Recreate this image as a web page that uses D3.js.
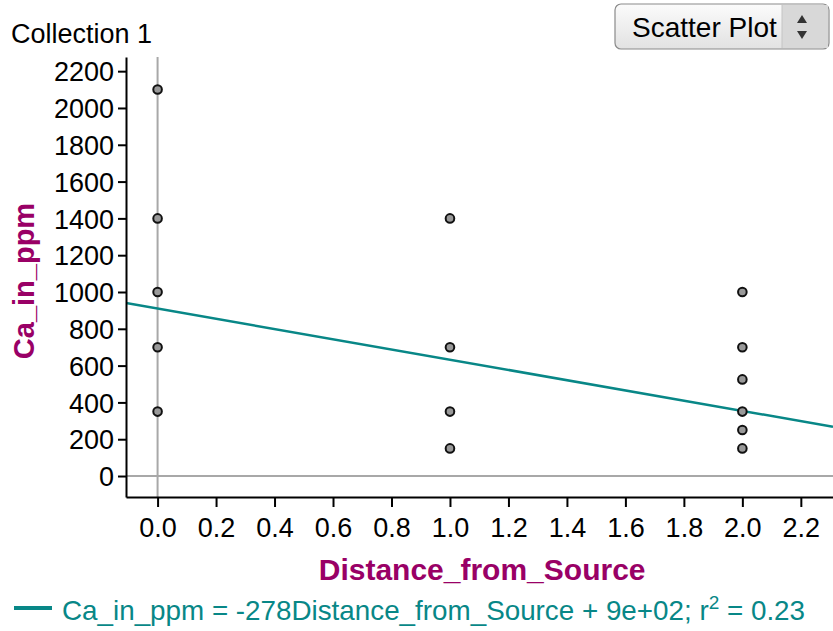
<!DOCTYPE html>
<html>
<head>
<meta charset="utf-8">
<script src="https://cdn.jsdelivr.net/npm/d3@7"></script>
<style>
  body { margin: 0; background: #fff; }
  svg { display: block; font-family: "Liberation Sans", Arial, sans-serif; }
</style>
</head>
<body>
<div id="canvas"></div>
<script>
// data
var distance = [0, 0, 0, 0, 0, 1, 1, 1, 1, 2, 2, 2, 2, 2, 2];
var caPpm = [2100, 1400, 1000, 700, 350, 1400, 700, 350, 150, 1000, 700, 525, 350, 250, 150];
var xTicks = [0, 0.2, 0.4, 0.6, 0.8, 1.0, 1.2, 1.4, 1.6, 1.8, 2.0, 2.2];
var yTicks = [0, 200, 400, 600, 800, 1000, 1200, 1400, 1600, 1800, 2000, 2200];
var fitSlope = -278, fitIntercept = 910;
var xDomain = [-0.108, 2.31], yDomain = [-114, 2277];

var W = 833, H = 631;
var margin = {top: 57, right: 0, bottom: 134, left: 126};
var width = W - margin.left - margin.right,
    height = H - margin.top - margin.bottom;

var teal = "#088787", purple = "#990066";

var svg = d3.select("#canvas").append("svg")
  .attr("width", W)
  .attr("height", H);

var x = d3.scaleLinear().domain(xDomain).range([0, width]);
var y = d3.scaleLinear().domain(yDomain).range([height, 0]);

var g = svg.append("g")
  .attr("transform", "translate(" + margin.left + "," + margin.top + ")");

g.append("clipPath").attr("id", "clip")
  .append("rect").attr("width", width).attr("height", height);

var plot = g.append("g").attr("clip-path", "url(#clip)");

// zero lines
plot.append("line")
  .attr("x1", x(0)).attr("x2", x(0)).attr("y1", 0).attr("y2", height)
  .attr("stroke", "#a8a8a8").attr("stroke-width", 2);
plot.append("line")
  .attr("x1", 0).attr("x2", width).attr("y1", y(0)).attr("y2", y(0))
  .attr("stroke", "#a8a8a8").attr("stroke-width", 2);

// least squares line
plot.append("line")
  .attr("x1", x(xDomain[0])).attr("y1", y(fitIntercept + fitSlope * xDomain[0]))
  .attr("x2", x(xDomain[1])).attr("y2", y(fitIntercept + fitSlope * xDomain[1]))
  .attr("stroke", teal).attr("stroke-width", 2.5);

// points
plot.selectAll(".dot")
  .data(distance)
  .enter().append("circle")
    .attr("class", "dot")
    .attr("cx", function(d) { return x(d); })
    .attr("cy", function(d, i) { return y(caPpm[i]); })
    .attr("r", 4.3)
    .attr("fill", "#999")
    .attr("stroke", "#111")
    .attr("stroke-width", 2);

// axes
var xAxis = g.append("g")
  .attr("transform", "translate(0," + height + ")")
  .call(d3.axisBottom(x).tickValues(xTicks).tickFormat(d3.format(".1f")).tickSize(10).tickSizeOuter(0).tickPadding(8));
var yAxis = g.append("g")
  .call(d3.axisLeft(y).tickValues(yTicks).tickFormat(d3.format("d")).tickSize(8).tickSizeOuter(0).tickPadding(4));

[xAxis, yAxis].forEach(function(a) {
  a.select(".domain").attr("stroke", "#000").attr("stroke-width", 2);
  a.selectAll(".tick line").attr("stroke", "#000").attr("stroke-width", 2);
  a.selectAll(".tick text")
    .attr("fill", "#000")
    .style("font-size", "27px")
    .style("font-family", "'Liberation Sans', Arial, sans-serif");
});
yAxis.selectAll(".tick text").attr("dy", "0.36em");
xAxis.selectAll(".tick text").attr("dy", "0.8em");

// axis labels
svg.append("text")
  .attr("x", margin.left + x(1.11))
  .attr("y", 580)
  .attr("text-anchor", "middle")
  .attr("fill", purple)
  .style("font-size", "30px")
  .style("font-weight", "bold")
  .text("Distance_from_Source");

svg.append("text")
  .attr("transform", "translate(34,281) rotate(-90)")
  .attr("text-anchor", "middle")
  .attr("fill", purple)
  .style("font-size", "29px")
  .style("font-weight", "bold")
  .text("Ca_in_ppm");

// title
svg.append("text")
  .attr("x", 11).attr("y", 43)
  .style("font-size", "27px")
  .attr("fill", "#000")
  .text("Collection 1");

// legend for the fit line
svg.append("line")
  .attr("x1", 14).attr("x2", 52).attr("y1", 608).attr("y2", 608)
  .attr("stroke", teal).attr("stroke-width", 4);
var leg = svg.append("text")
  .attr("x", 62).attr("y", 620)
  .attr("fill", teal)
  .style("font-size", "27.8px");
leg.append("tspan").text("Ca_in_ppm = -278Distance_from_Source + 9e+02; r");
leg.append("tspan").attr("dy", -11).style("font-size", "19px").text("2");
leg.append("tspan").attr("dy", 11).text(" = 0.23");

// the dropdown
var defs = svg.append("defs");
var grad = defs.append("linearGradient").attr("id", "btn").attr("x1", 0).attr("x2", 0).attr("y1", 0).attr("y2", 1);
grad.append("stop").attr("offset", "0%").attr("stop-color", "#fbfbfb");
grad.append("stop").attr("offset", "100%").attr("stop-color", "#e2e2e2");
var btn = svg.append("g").attr("transform", "translate(615,4)");
btn.append("rect")
  .attr("width", 214).attr("height", 45).attr("rx", 6)
  .attr("fill", "url(#btn)").attr("stroke", "#8a8a8a").attr("stroke-width", 1.2);
btn.append("rect")
  .attr("x", 167).attr("y", 1).attr("width", 46).attr("height", 43)
  .attr("fill", "#d8d8d8");
btn.append("line")
  .attr("x1", 167).attr("x2", 167).attr("y1", 1).attr("y2", 44)
  .attr("stroke", "#c4c4c4");
btn.append("text")
  .attr("x", 17).attr("y", 33)
  .style("font-size", "28px")
  .attr("fill", "#000")
  .text("Scatter Plot");
btn.append("path").attr("d", "M182,19 L187,11 L192,19 Z").attr("fill", "#333");
btn.append("path").attr("d", "M182,27 L187,35 L192,27 Z").attr("fill", "#333");
</script>
</body>
</html>
